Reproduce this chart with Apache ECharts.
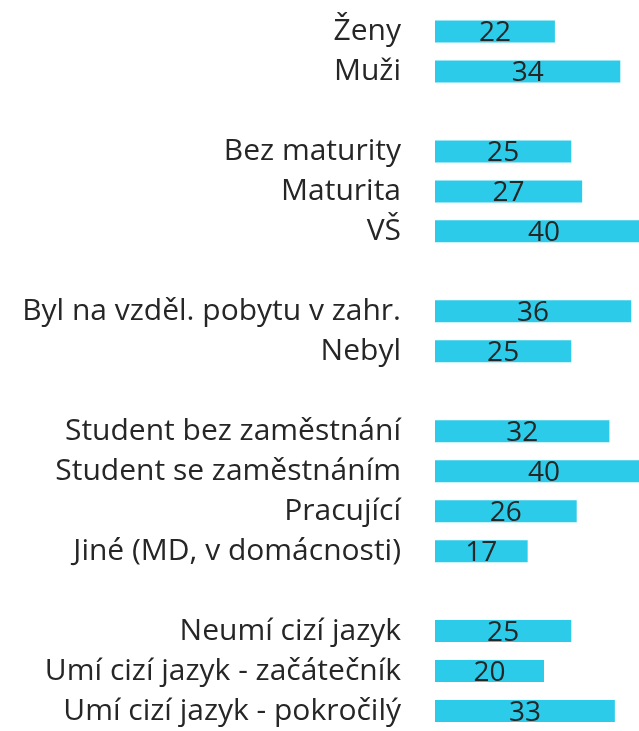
<!DOCTYPE html>
<html>
<head>
<meta charset="utf-8">
<script src="https://cdn.jsdelivr.net/npm/echarts@6/dist/echarts.min.js"></script>
<style>
  html, body { margin: 0; padding: 0; background: #fff; }
  #chart { width: 639px; height: 731px; }
</style>
</head>
<body>
<div id="chart"></div>
<script>
// rows top to bottom; blank names are the gaps between groups
const categories = [
  'Ženy', 'Muži', ' ',
  'Bez maturity', 'Maturita', 'VŠ', '  ',
  'Byl na vzděl. pobytu v zahr.', 'Nebyl', '   ',
  'Student bez zaměstnání', 'Student se zaměstnáním', 'Pracující', 'Jiné (MD, v domácnosti)', '    ',
  'Neumí cizí jazyk', 'Umí cizí jazyk - začátečník', 'Umí cizí jazyk - pokročilý'
];
const values = [
  22, 34, '-',
  25, 27, 40, '-',
  36, 25, '-',
  32, 40, 26, 17, '-',
  25, 20, 33
];

const chart = echarts.init(document.getElementById('chart'));

// the longest bars run past the right edge, so the grid ends at the edge
// and the axis max is below 40 (5.45 px per unit)
chart.setOption({
  animation: false,
  grid: {
    left: 435,
    right: 0,
    top: 11.5,
    height: 722
  },
  xAxis: {
    type: 'value',
    min: 0,
    max: 204 / 5.45,
    show: false
  },
  yAxis: {
    type: 'category',
    inverse: true,
    data: categories,
    axisLine: { show: false },
    axisTick: { show: false },
    axisLabel: {
      margin: 34,
      fontFamily: 'Open Sans',
      fontSize: 30,
      color: '#262626',
      padding: [4, 0, 0, 0]
    }
  },
  series: [{
    type: 'bar',
    data: values,
    barWidth: 22,
    clip: false,
    itemStyle: { color: '#2CCBE9' },
    label: {
      show: true,
      position: 'inside',
      offset: [0, 2],
      fontFamily: 'Open Sans',
      fontSize: 28,
      color: '#262626'
    }
  }]
});
</script>
</body>
</html>
